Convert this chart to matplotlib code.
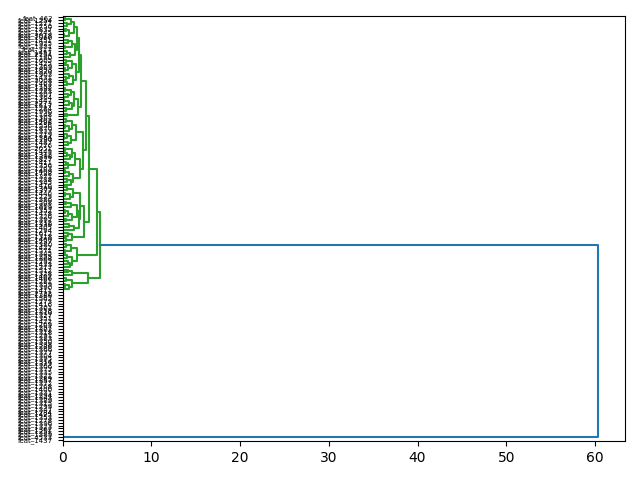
import numpy as np
from matplotlib import pyplot as plt

# leaf labels, top to bottom
label_ids = [462, 1254, 1271, 1750, 1837, 1245, 3018, 1066, 1451, 1925,
             1331, 317, 1457, 2154, 1180, 1605, 1425, 1369, 1893, 1320,
             1903, 1431, 3008, 1463, 1152, 1392, 1283, 1307, 1364, 1447,
             2273, 1517, 1284, 1996, 1148, 1361, 1402, 1298, 1556, 1870,
             1333, 1219, 1384, 1190, 1487, 1276, 2051, 1449, 1312, 1398,
             1827, 1411, 1356, 1263, 1409, 1728, 1371, 1288, 1345, 1416,
             1309, 1377, 1440, 1229, 1386, 1508, 1301, 1619, 1352, 1478,
             1326, 1392, 1212, 1339, 1405, 1294, 1612, 1318, 1460, 1237,
             1380, 1422, 1571, 1345, 1255, 1368, 1292, 1433, 1317, 1512,
             1328, 1402, 1466, 1281, 1359, 1390, 1411, 2722, 1389, 1562,
             1273, 1416, 1301, 1258, 1310, 1327, 1351, 1422, 1269, 1297,
             1302, 1318, 1291, 1383, 1350, 1338, 1286, 1366, 1377, 1304,
             1395, 1314, 1329, 1306, 1377, 1335, 1321, 1289, 1357, 1372,
             1268, 1400, 1331, 1294, 1343, 1389, 1315, 1299, 1347, 1284,
             1425, 1353, 1278, 1396, 1323, 1362, 1251, 1389, 4533, 1437]
labels = ["feat_%d" % i for i in label_ids]

# merge height between neighbouring leaves (top to bottom)
gaps_a1_top = [0.3, 0.9, 0.5, 1.3, 0.4, 0.7, 0.2, 1.6, 0.6, 1.0, 0.3, 1.4,
               0.5, 0.8, 1.8, 0.4, 1.1, 0.6, 0.3, 1.5, 0.7, 0.4, 1.2, 0.5,
               2.1, 0.3, 0.9, 0.6, 1.3, 0.2, 0.7, 1.0, 0.4, 1.7, 0.5]
gaps_a1_mid = [0.4, 1.0, 0.3, 0.7, 1.5, 0.5, 0.2, 0.9, 0.6, 2.3, 0.3, 1.1,
               0.5, 0.8, 1.4, 0.4, 0.6, 1.9, 0.3, 0.7, 1.2, 0.5, 0.9]
gaps_a1_low = [0.5, 1.2, 0.3, 0.8, 1.9, 0.4, 0.9, 1.6, 0.3, 0.6, 1.1, 0.4,
               1.8, 0.7, 1.3, 2.4, 0.6, 1.0, 0.4]
gaps_a2 = [0.4, 0.9, 0.3, 1.6, 0.5, 1.1, 0.6, 0.8]
gaps_b = [0.6, 1.1, 2.9, 0.4, 1.0, 0.3, 0.7]
gaps_zero = [0.0] * 52
h_a1a, h_a1, h_a, h_green, h_root = 2.6, 3.0, 3.85, 4.2, 60.4

gaps = (gaps_a1_top + [h_a1a] + gaps_a1_mid + [h_a1] + gaps_a1_low + [h_a]
        + gaps_a2 + [h_green] + gaps_b + [h_root] + gaps_zero)

N = len(labels)
threshold = 0.7 * max(gaps)


def ypos(j):
    return 10 * (N - j) - 5


segs = []


def build(lo, hi, color):
    if lo == hi:
        return ypos(lo), 0.0
    part = gaps[lo:hi]
    m = max(part)
    k = lo + len(part) - 1 - part[::-1].index(m)
    if m > threshold:
        c, cl, cr = 'C0', 'C2', 'C1'
    else:
        c = cl = cr = color
    yl, hl = build(lo, k, cl)
    yr, hr = build(k + 1, hi, cr)
    segs.append(([hl, m, m, hr], [yl, yl, yr, yr], c))
    return (yl + yr) / 2, m


build(0, N - 1, 'C0')

fig, ax = plt.subplots(figsize=(6.4, 4.8))
for xs, ys, c in segs:
    ax.plot(xs, ys, color=c, lw=1.5)

ax.set_xlim(0, max(gaps) * 1.05)
ax.set_ylim(0, 10 * N)
ax.set_yticks([ypos(j) for j in range(N)])
ax.set_yticklabels(labels, fontsize=5)
fig.subplots_adjust(left=0.098, right=0.977, top=0.967, bottom=0.081)
fig.savefig("out.png", dpi=100)
